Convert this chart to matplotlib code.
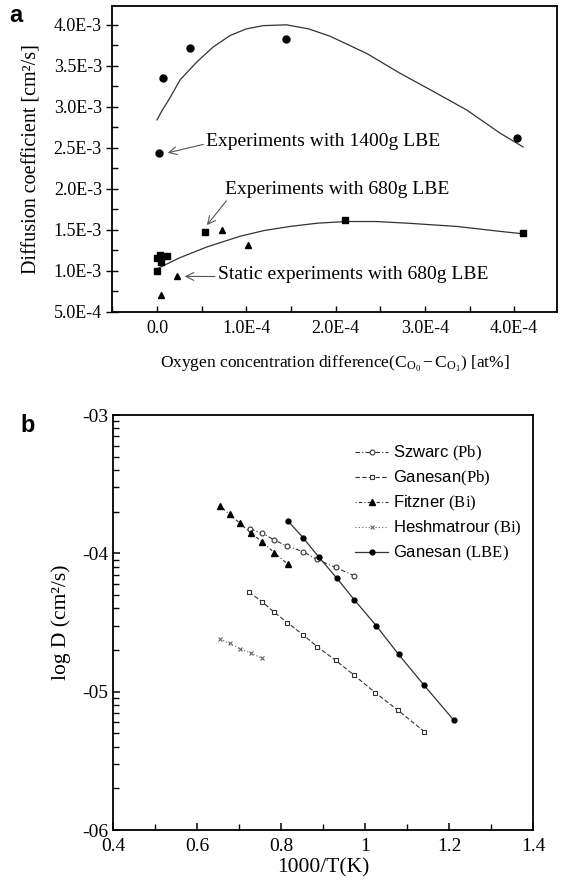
import matplotlib
matplotlib.use('Agg')
import matplotlib.pyplot as plt
from matplotlib.ticker import FixedLocator, MultipleLocator, LogLocator, NullFormatter

plt.rcParams['font.family'] = ['Liberation Serif', 'DejaVu Serif']
plt.rcParams['mathtext.fontset'] = 'custom'
plt.rcParams['mathtext.rm'] = 'Liberation Serif'
plt.rcParams['mathtext.it'] = 'Liberation Serif:italic'
plt.rcParams['mathtext.bf'] = 'Liberation Serif:bold'
plt.rcParams['mathtext.sf'] = 'Liberation Sans'

# ---- panel a data ----
x_1400 = [0.07e-4, 0.37e-4, 1.44e-4, 0.02e-4, 4.03e-4]
y_1400 = [3.35e-3, 3.72e-3, 3.83e-3, 2.43e-3, 2.62e-3]
x_680 = [0.0, 0.0, 0.03e-4, 0.05e-4, 0.11e-4, 0.54e-4, 2.11e-4, 4.10e-4]
y_680 = [1.00e-3, 1.15e-3, 1.19e-3, 1.11e-3, 1.18e-3, 1.47e-3, 1.62e-3, 1.46e-3]
x_static = [0.05e-4, 0.22e-4, 0.73e-4, 1.02e-4]
y_static = [0.70e-3, 0.94e-3, 1.50e-3, 1.31e-3]

# fitted curves
fit_1400_x = [0.0, 0.06e-4, 0.13e-4, 0.26e-4, 0.45e-4, 0.63e-4, 0.82e-4, 1.00e-4,
              1.19e-4, 1.45e-4, 1.70e-4, 1.94e-4, 2.35e-4, 2.72e-4, 3.09e-4,
              3.47e-4, 3.84e-4, 4.10e-4]
fit_1400_y = [2.84e-3, 2.96e-3, 3.08e-3, 3.33e-3, 3.55e-3, 3.73e-3, 3.87e-3, 3.95e-3,
              3.99e-3, 4.00e-3, 3.95e-3, 3.86e-3, 3.65e-3, 3.41e-3, 3.19e-3,
              2.96e-3, 2.68e-3, 2.51e-3]
fit_680_x = [0.0, 0.05e-4, 0.26e-4, 0.56e-4, 0.93e-4, 1.20e-4, 1.49e-4, 1.80e-4,
             2.12e-4, 2.45e-4, 2.80e-4, 3.36e-4, 3.84e-4, 4.10e-4]
fit_680_y = [1.02e-3, 1.05e-3, 1.16e-3, 1.29e-3, 1.42e-3, 1.49e-3, 1.54e-3, 1.58e-3,
             1.60e-3, 1.60e-3, 1.58e-3, 1.54e-3, 1.48e-3, 1.45e-3]

a_xticks = [0.0, 1e-4, 2e-4, 3e-4, 4e-4]
a_xlabels = ['0.0', '1.0E-4', '2.0E-4', '3.0E-4', '4.0E-4']
a_yticks = [5e-4, 1e-3, 1.5e-3, 2e-3, 2.5e-3, 3e-3, 3.5e-3, 4e-3]
a_ylabels = ['5.0E-4', '1.0E-3', '1.5E-3', '2.0E-3', '2.5E-3', '3.0E-3', '3.5E-3', '4.0E-3']

# ---- panel b data (log10 D) ----
szwarc_x = [0.726, 0.755, 0.783, 0.814, 0.852, 0.884, 0.929, 0.973]
szwarc_y = [-3.824, -3.855, -3.903, -3.949, -3.987, -4.043, -4.102, -4.161]
ganpb_x = [0.723, 0.754, 0.782, 0.814, 0.851, 0.886, 0.929, 0.973, 1.024, 1.078, 1.140]
ganpb_y = [-4.281, -4.349, -4.423, -4.500, -4.587, -4.676, -4.773, -4.880, -5.008, -5.135, -5.288]
fitz_x = [0.654, 0.677, 0.701, 0.727, 0.755, 0.783, 0.815]
fitz_y = [-3.658, -3.719, -3.781, -3.852, -3.918, -3.995, -4.077]
hesh_x = [0.654, 0.677, 0.701, 0.728, 0.755]
hesh_y = [-4.620, -4.651, -4.689, -4.722, -4.760]
ganlbe_x = [0.815, 0.852, 0.889, 0.932, 0.974, 1.026, 1.079, 1.140, 1.210]
ganlbe_y = [-3.763, -3.888, -4.026, -4.179, -4.337, -4.523, -4.730, -4.954, -5.204]

b_xticks = [0.4, 0.6, 0.8, 1.0, 1.2, 1.4]
b_xlabels = ['0.4', '0.6', '0.8', '1', '1.2', '1.4']
b_yticks = [1e-6, 1e-5, 1e-4, 1e-3]
b_ylabels = ['-06', '-05', '-04', '-03']


def pw(vals):
    return [10 ** v for v in vals]


fig = plt.figure(figsize=(5.61, 8.9), dpi=100)

# ================= panel a =================
ax = fig.add_axes([0.2002, 0.6498, 0.7927, 0.3435])
ax.plot(fit_1400_x, fit_1400_y, color='#333333', lw=0.9)
ax.plot(fit_680_x, fit_680_y, color='#333333', lw=0.9)
ax.plot(x_1400, y_1400, 'o', color='black', ms=5)
ax.plot(x_680, y_680, 's', color='black', ms=4.6)
ax.plot(x_static, y_static, '^', color='black', ms=5)

ax.set_xlim(-0.5e-4, 4.48e-4)
ax.set_ylim(5e-4, 4.23e-3)
ax.xaxis.set_major_locator(FixedLocator(a_xticks))
ax.set_xticklabels(a_xlabels)
ax.xaxis.set_minor_locator(MultipleLocator(0.5e-4))
ax.yaxis.set_major_locator(FixedLocator(a_yticks))
ax.set_yticklabels(a_ylabels)
ax.yaxis.set_minor_locator(MultipleLocator(0.25e-3))
ax.tick_params(axis='x', which='both', direction='in', length=4, width=1, labelsize=13, pad=6)
ax.tick_params(axis='y', which='major', direction='inout', length=8, width=1, labelsize=13)
ax.tick_params(axis='y', which='minor', direction='in', length=4, width=1)
for s in ax.spines.values():
    s.set_linewidth(1.3)

ax.set_ylabel('Diffusion coefficient [cm²/s]', fontsize=14.5, labelpad=9)
ax.set_xlabel(r'Oxygen concentration difference$\mathregular{(C_{O_0}-C_{O_1})}$ [at%]',
              fontsize=12.5, labelpad=12)

arrow = dict(arrowstyle='->', color='#555555', lw=0.8, shrinkA=0, shrinkB=2)
ax.annotate('Experiments with 1400g LBE', xy=(0.09e-4, 2.43e-3), xytext=(0.55e-4, 2.58e-3),
            fontsize=14, va='center', ha='left',
            arrowprops=dict(arrow, relpos=(0, 0.35)))
ax.annotate('Experiments with 680g LBE', xy=(0.54e-4, 1.53e-3), xytext=(0.76e-4, 1.99e-3),
            fontsize=14, va='center', ha='left',
            arrowprops=dict(arrow, relpos=(0.02, 0.05)))
ax.annotate('Static experiments with 680g LBE', xy=(0.28e-4, 0.93e-3), xytext=(0.68e-4, 0.95e-3),
            fontsize=14, va='center', ha='left',
            arrowprops=dict(arrow, relpos=(0, 0.4)))

fig.text(0.028, 0.983, 'a', fontsize=17, fontweight='bold', family='Liberation Sans',
         ha='center', va='center')

# ================= panel b =================
bx = fig.add_axes([0.202, 0.0674, 0.7487, 0.4663])
bx.set_yscale('log')
bx.plot(szwarc_x, pw(szwarc_y), color='#333333', lw=0.8, ls=(0, (4, 2, 1, 2)),
        marker='o', mfc='white', mec='#333333', ms=3.5, mew=0.8,
        label=r'Szwarc $\mathrm{(Pb)}$')
bx.plot(ganpb_x, pw(ganpb_y), color='#333333', lw=0.8, ls=(0, (4, 2)),
        marker='s', mfc='white', mec='#333333', ms=3.5, mew=0.8,
        label=r'Ganesan$\mathrm{(Pb)}$')
bx.plot(fitz_x, pw(fitz_y), color='#333333', lw=0.8, ls=(0, (1, 2, 3, 2)),
        marker='^', mfc='black', mec='black', ms=4.5,
        label=r'Fitzner $\mathrm{(Bi)}$')
bx.plot(hesh_x, pw(hesh_y), color='#666666', lw=0.8, ls=(0, (1, 2)),
        marker='x', mec='#666666', ms=3.5, mew=0.8,
        label=r'Heshmatrour $\mathrm{(Bi)}$')
bx.plot(ganlbe_x, pw(ganlbe_y), color='#333333', lw=0.9, ls='-',
        marker='o', mfc='black', mec='black', ms=3.5,
        label=r'Ganesan $\mathrm{(LBE)}$')

bx.set_xlim(0.4, 1.4)
bx.set_ylim(1e-6, 1e-3)
bx.xaxis.set_major_locator(FixedLocator(b_xticks))
bx.set_xticklabels(b_xlabels)
bx.xaxis.set_minor_locator(MultipleLocator(0.1))
bx.yaxis.set_major_locator(FixedLocator(b_yticks))
bx.set_yticklabels(b_ylabels)
bx.yaxis.set_minor_locator(LogLocator(base=10, subs=range(2, 10)))
bx.yaxis.set_minor_formatter(NullFormatter())
bx.tick_params(which='major', direction='in', length=5, width=1.1, labelsize=14)
bx.tick_params(which='minor', direction='in', length=4, width=1)
bx.tick_params(axis='x', which='major', pad=6)
for s in bx.spines.values():
    s.set_linewidth(1.3)

bx.set_xlabel('1000/T(K)', fontsize=15.5, labelpad=2)
bx.set_ylabel('log D (cm²/s)', fontsize=15.5, labelpad=8)

bx.legend(loc='upper left', bbox_to_anchor=(0.575, 0.93), frameon=False,
          prop={'family': 'Liberation Sans', 'size': 12}, borderpad=0,
          borderaxespad=0, handlelength=2.0, handletextpad=0.3, labelspacing=0.35)

fig.text(0.05, 0.522, 'b', fontsize=17, fontweight='bold', family='Liberation Sans',
         ha='center', va='center')

fig.savefig('out.png', dpi=100)
